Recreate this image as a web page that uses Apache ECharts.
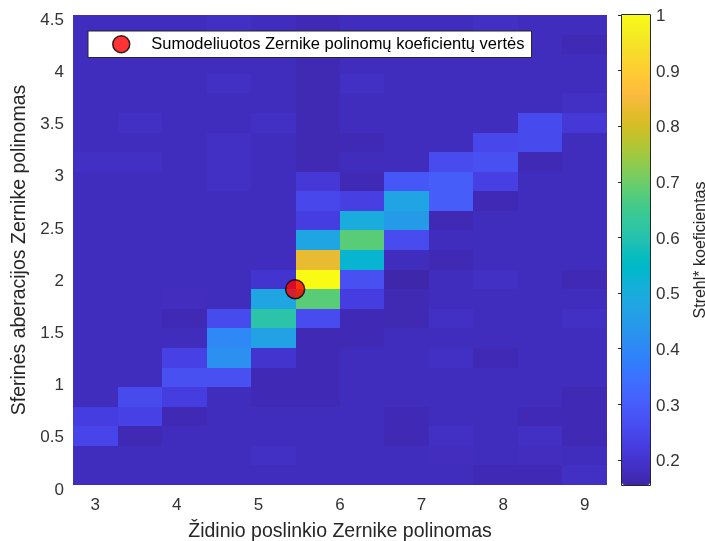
<!DOCTYPE html>
<html>
<head>
<meta charset="utf-8">
<script src="https://cdn.jsdelivr.net/npm/echarts@6/dist/echarts.min.js"></script>
<style>
html,body{margin:0;padding:0;background:#fff;}
#chart{width:705px;height:541px;}
</style>
</head>
<body>
<div id="chart"></div>
<script>
// ---------- data ----------
const xCenters = [3, 3.5455, 4.0909, 4.6364, 5.1818, 5.7273, 6.2727, 6.8182, 7.3636, 7.9091, 8.4545, 9];
const yCenters = [0.09375, 0.28125, 0.46875, 0.65625, 0.84375, 1.03125, 1.21875, 1.40625, 1.59375, 1.78125,
                  1.96875, 2.15625, 2.34375, 2.53125, 2.71875, 2.90625, 3.09375, 3.28125, 3.46875, 3.65625,
                  3.84375, 4.03125, 4.21875, 4.40625];
// Strehl values, one row per yCenter (bottom to top), one column per xCenter
const strehl = [
  [0.178,0.178,0.178,0.178,0.178,0.178,0.178,0.178,0.178,0.170,0.170,0.185],
  [0.178,0.178,0.178,0.178,0.185,0.178,0.178,0.178,0.180,0.178,0.180,0.178],
  [0.245,0.170,0.178,0.178,0.178,0.178,0.178,0.170,0.185,0.178,0.185,0.170],
  [0.225,0.235,0.170,0.178,0.178,0.178,0.178,0.170,0.178,0.178,0.170,0.170],
  [0.178,0.255,0.225,0.178,0.170,0.170,0.178,0.178,0.178,0.178,0.178,0.170],
  [0.178,0.178,0.270,0.270,0.170,0.170,0.178,0.178,0.178,0.178,0.178,0.178],
  [0.178,0.178,0.235,0.420,0.200,0.170,0.178,0.178,0.185,0.170,0.178,0.178],
  [0.178,0.178,0.178,0.400,0.465,0.170,0.170,0.178,0.178,0.178,0.178,0.178],
  [0.178,0.178,0.170,0.255,0.610,0.260,0.170,0.168,0.185,0.178,0.178,0.185],
  [0.178,0.178,0.180,0.178,0.480,0.680,0.225,0.168,0.178,0.178,0.178,0.178],
  [0.178,0.178,0.178,0.178,0.200,1.000,0.270,0.160,0.178,0.185,0.178,0.170],
  [0.178,0.178,0.178,0.178,0.178,0.830,0.530,0.178,0.170,0.178,0.178,0.178],
  [0.178,0.178,0.178,0.178,0.178,0.480,0.680,0.260,0.178,0.178,0.178,0.178],
  [0.178,0.178,0.178,0.178,0.178,0.225,0.500,0.450,0.170,0.178,0.178,0.178],
  [0.178,0.178,0.178,0.178,0.178,0.250,0.230,0.475,0.300,0.170,0.178,0.178],
  [0.178,0.178,0.178,0.185,0.178,0.210,0.170,0.285,0.300,0.230,0.178,0.178],
  [0.185,0.185,0.178,0.185,0.178,0.168,0.178,0.178,0.260,0.270,0.170,0.178],
  [0.178,0.178,0.178,0.185,0.178,0.168,0.170,0.178,0.178,0.250,0.255,0.178],
  [0.178,0.185,0.178,0.178,0.185,0.168,0.178,0.178,0.178,0.178,0.255,0.210],
  [0.178,0.178,0.178,0.178,0.178,0.168,0.178,0.178,0.178,0.178,0.178,0.185],
  [0.178,0.178,0.178,0.185,0.178,0.168,0.185,0.178,0.178,0.178,0.178,0.178],
  [0.178,0.178,0.178,0.178,0.178,0.168,0.178,0.178,0.178,0.178,0.178,0.178],
  [0.178,0.178,0.178,0.178,0.178,0.178,0.178,0.178,0.178,0.178,0.178,0.170],
  [0.178,0.178,0.178,0.185,0.178,0.170,0.178,0.178,0.178,0.185,0.178,0.178]
];
const pointX = [5.45];
const pointY = [1.875];
const xTicks = [3, 4, 5, 6, 7, 8, 9];
const colorbarTicks = [0.2, 0.3, 0.4, 0.5, 0.6, 0.7, 0.8, 0.9, 1];
const colorMin = 0.155, colorMax = 1.0;
const legendName = 'Sumodeliuotos Zernike polinomų koeficientų vertės';
const xName = 'Židinio poslinkio Zernike polinomas';
const yName = 'Sferinės aberacijos Zernike polinomas';
const cbName = 'Strehl* koeficientas';

// parula colormap (64)
const parula = ['#3e26a8','#402ab4','#422ec0','#4332cb','#4537d5','#463cde','#4741e5','#4747eb','#484df0','#4852f4','#4758f8','#465efb','#4563fd','#4269fe','#3e6fff','#3875fe','#327cfc','#2f81fa','#2e87f7','#2d8cf3','#2b91ef','#2797eb','#259be8','#23a0e5','#20a5e3','#1ca9df','#18addb','#12b1d6','#08b5d0','#01b8ca','#02bac3','#0bbdbd','#19bfb6','#24c1ae','#2cc4a7','#31c69f','#37c897','#3fca8e','#4acb84','#57cc7a','#64cd6f','#72cd64','#81cc59','#8fcb4e','#9dc943','#abc739','#b9c431','#c5c22a','#d1bf27','#dcbd29','#e6bb2d','#f0ba36','#f8ba3d','#febe3c','#fec338','#fec934','#fccf30','#fad62d','#f7dc2a','#f5e327','#f5e924','#f6ef20','#f7f51b','#f9fb15'];

// ---------- build ----------
const halfW = (xCenters[1] - xCenters[0]) / 2;
const halfH = (yCenters[1] - yCenters[0]) / 2;
const cells = [];
for (let r = 0; r < yCenters.length; r++) {
  for (let c = 0; c < xCenters.length; c++) {
    cells.push([xCenters[c], yCenters[r], strehl[r][c]]);
  }
}
const FONT = "'Liberation Sans', Arial, Helvetica, sans-serif";
const TXT = '#262626';
const LBL = '#333';

const chart = echarts.init(document.getElementById('chart'), null, {renderer: 'canvas'});
chart.setOption({
  animation: false,
  backgroundColor: '#fff',
  textStyle: {fontFamily: FONT},
  grid: [
    {left: 73, top: 15, width: 534, height: 470, outerBoundsMode: 'none', containLabel: false},
    {left: 622, top: 15, width: 28, height: 470, outerBoundsMode: 'none', containLabel: false}
  ],
  xAxis: [
    {
      type: 'value', gridIndex: 0,
      min: xCenters[0] - halfW, max: xCenters[xCenters.length - 1] + halfW,
      axisLine: {show: false}, axisTick: {show: false}, splitLine: {show: false},
      axisLabel: {customValues: xTicks, fontSize: 17, color: LBL, margin: 12, fontFamily: FONT},
      name: xName, nameLocation: 'middle', nameGap: 37,
      nameTextStyle: {fontSize: 19.5, color: TXT, fontFamily: FONT}
    },
    {type: 'value', gridIndex: 1, show: false, min: 0, max: 1}
  ],
  yAxis: [
    {
      type: 'value', gridIndex: 0, min: 0, max: 4.5, interval: 0.5,
      axisLine: {show: false}, axisTick: {show: false}, splitLine: {show: false},
      axisLabel: {fontSize: 17, color: LBL, margin: 9, fontFamily: FONT,
                  formatter: v => '{a|' + v + '}',
                  rich: {a: {fontSize: 17, color: LBL, fontFamily: FONT, padding: [10, 0, 0, 0]}}},
      name: yName, nameLocation: 'middle', nameRotate: 90, nameGap: 40,
      nameTextStyle: {fontSize: 19.5, color: TXT, fontFamily: FONT}
    },
    {
      type: 'value', gridIndex: 1, min: colorMin, max: colorMax, position: 'right', z: 10,
      axisLine: {show: false}, splitLine: {show: false},
      axisTick: {show: true, inside: true, length: 4, customValues: colorbarTicks, lineStyle: {color: TXT}},
      axisLabel: {customValues: colorbarTicks, fontSize: 17, color: LBL, margin: 6, fontFamily: FONT,
                  formatter: v => '{a|' + String(+v.toFixed(1)) + '}',
                  rich: {a: {fontSize: 17, color: LBL, fontFamily: FONT, padding: [3, 0, 0, 0]}}},
      name: cbName, nameLocation: 'middle', nameRotate: 90, nameGap: 43,
      nameTextStyle: {fontSize: 16, color: TXT, fontFamily: FONT}
    }
  ],
  visualMap: {
    type: 'continuous', seriesIndex: 0, dimension: 2,
    min: colorMin, max: colorMax, inRange: {color: parula},
    left: 622, top: 15, itemWidth: 28, itemHeight: 470, padding: 0,
    calculable: false, hoverLink: false, realtime: false, text: null
  },
  legend: {
    data: [legendName], left: 88, top: 31,
    backgroundColor: '#fff', borderColor: TXT, borderWidth: 1, borderRadius: 0,
    padding: [4, 7, 4, 24], itemWidth: 50, itemHeight: 17, icon: 'circle',
    itemStyle: {color: '#ff0000', borderColor: '#000', borderWidth: 1.5},
    textStyle: {fontSize: 16.5, color: '#000', fontFamily: FONT},
    selectedMode: false
  },
  graphic: [
    {type: 'rect', shape: {x: 621.5, y: 14.5, width: 29, height: 471}, style: {fill: null, stroke: TXT, lineWidth: 1}, z: 100, silent: true}
  ],
  series: [
    {
      type: 'custom', xAxisIndex: 0, yAxisIndex: 0,
      encode: {x: 0, y: 1},
      data: cells,
      renderItem: function (params, api) {
        const x = api.value(0), y = api.value(1);
        const p0 = api.coord([x - halfW, y + halfH]);
        const p1 = api.coord([x + halfW, y - halfH]);
        const x0 = Math.round(p0[0]), y0 = Math.round(p0[1]);
        const x1 = Math.round(p1[0]), y1 = Math.round(p1[1]);
        return {type: 'rect', shape: {x: x0, y: y0, width: x1 - x0, height: y1 - y0},
                style: {fill: api.visual('color')}};
      },
      silent: true
    },
    {
      type: 'scatter', name: legendName, xAxisIndex: 0, yAxisIndex: 0,
      data: pointX.map((x, i) => [x, pointY[i]]),
      symbol: 'circle', symbolSize: 19, z: 5,
      itemStyle: {color: '#ff0000', borderColor: '#000', borderWidth: 1.5}
    }
  ]
});
</script>
</body>
</html>
